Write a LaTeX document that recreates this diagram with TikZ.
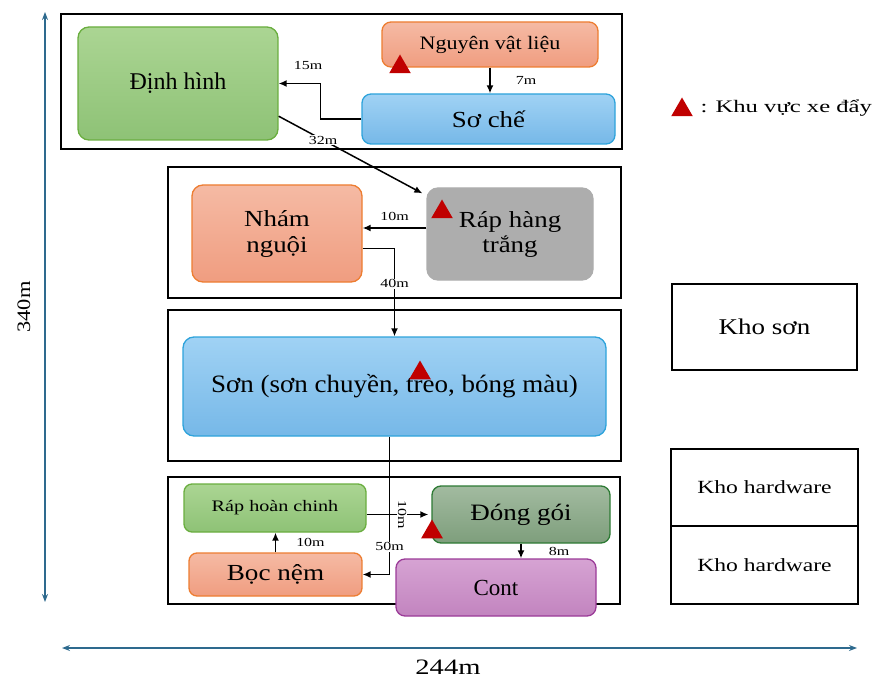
\documentclass[tikz,border=0pt]{standalone}
\usepackage{fontspec}
\setmainfont{Liberation Serif}
\usepackage{xcolor}
\usepackage{tikz}
\usetikzlibrary{positioning, arrows.meta, shapes.geometric}

\definecolor{grnTop}{HTML}{ABD593}
\definecolor{grnBot}{HTML}{8EC276}
\definecolor{grnLine}{HTML}{6AAE3F}
\definecolor{orgTop}{HTML}{F5BAA4}
\definecolor{orgBot}{HTML}{F09D80}
\definecolor{orgLine}{HTML}{ED7D31}
\definecolor{bluTop}{HTML}{A0D2F4}
\definecolor{bluBot}{HTML}{76B8E8}
\definecolor{bluLine}{HTML}{2EA3DB}
\definecolor{gryFill}{HTML}{ADADAD}
\definecolor{dgrTop}{HTML}{A2BBA0}
\definecolor{dgrBot}{HTML}{7E9E7C}
\definecolor{dgrLine}{HTML}{2D7A34}
\definecolor{purTop}{HTML}{D6A3D3}
\definecolor{purBot}{HTML}{C284BF}
\definecolor{purLine}{HTML}{9B3B98}
\definecolor{cartred}{HTML}{C00000}
\definecolor{dimblue}{HTML}{2E6A8E}

% size, line skip, horizontal stretch
\newcommand{\fsz}[3]{\fontsize{#1}{#2}\selectfont\addfontfeatures{FakeStretch=#3}}

\begin{document}
\begin{tikzpicture}[x=1pt, y=-1pt,
  box/.style={draw, rounded corners=11pt, line width=1.3pt, align=center, inner sep=0pt},
  zone/.style={draw, line width=2.4pt},
  store/.style={draw, line width=2pt, align=center, inner sep=0pt},
  flow/.style={line width=1.5pt, -{Latex[length=8pt,width=7pt]}},
  dist/.style={font=\fsz{12.3}{14}{1.3}, inner sep=1pt},
  cart/.style={regular polygon, regular polygon sides=3, fill=cartred, minimum size=25pt, inner sep=0pt},
  dim/.style={draw=dimblue, line width=1.6pt, {Stealth[length=8pt,width=6pt]}-{Stealth[length=8pt,width=6pt]}}]
\useasboundingbox (0,0) rectangle (873,679);

% khu vuc
\draw[zone] (61,14) rectangle (622,149);
\draw[zone] (168,167) rectangle (621,298);
\draw[zone] (168,310) rectangle (621,461);
\draw[zone] (168,477) rectangle (620,604);

% cong doan
\node[box, draw=grnLine, top color=grnTop, bottom color=grnBot, minimum width=200pt, minimum height=113pt, font=\fsz{24}{28}{1.0}] (dinhhinh) at (178,83.5) {Định hình};
\node[box, rounded corners=9pt, draw=orgLine, top color=orgTop, bottom color=orgBot, minimum width=216pt, minimum height=45pt, font=\fsz{19}{22}{1.16}] (nvl) at (490,44.5) {Nguyên vật liệu};
\node[box, rounded corners=9pt, draw=bluLine, top color=bluTop, bottom color=bluBot, minimum width=253pt, minimum height=50pt, font=\fsz{23}{26}{1.17}] (soche) at (488.5,119) {Sơ chế};
\node[box, draw=orgLine, top color=orgTop, bottom color=orgBot, minimum width=170pt, minimum height=97pt, font=\fsz{23}{26}{1.17}] (nham) at (277,233.5) {Nhám\\nguội};
\node[box, draw=gryFill, fill=gryFill, minimum width=166pt, minimum height=92pt, font=\fsz{23}{25}{1.17}] (raphang) at (510,234) {Ráp hàng\\trắng};
\node[box, draw=bluLine, top color=bluTop, bottom color=bluBot, minimum width=423pt, minimum height=99pt, font=\fsz{25}{29}{1.08}] (son) at (394.5,386.5) {Sơn (sơn chuyền, treo, bóng màu)};
\node[box, rounded corners=8pt, draw=grnLine, top color=grnTop, bottom color=grnBot, minimum width=182pt, minimum height=48pt, font=\fsz{16}{19}{1.26}] (raphoan) at (275,508) {Ráp hoàn chinh};
\node[box, rounded corners=8pt, draw=orgLine, top color=orgTop, bottom color=orgBot, minimum width=173pt, minimum height=43pt, font=\fsz{23}{26}{1.18}] (bocnem) at (275.5,574.5) {Bọc nệm};
\node[box, rounded corners=9pt, draw=dgrLine, top color=dgrTop, bottom color=dgrBot, minimum width=178pt, minimum height=57pt, font=\fsz{23.5}{27}{1.15}] (donggoi) at (521,514.5) {Đóng gói};
\node[box, rounded corners=9pt, draw=purLine, top color=purTop, bottom color=purBot, minimum width=200pt, minimum height=57pt, font=\fsz{23}{26}{1.0}] (cont) at (496,587.5) {Cont};

% kho
\node[store, minimum width=185pt, minimum height=86pt, font=\fsz{22.5}{26}{1.2}] (khoson) at (764.5,327) {Kho sơn};
\node[store, minimum width=187pt, minimum height=77pt, font=\fsz{18.6}{22}{1.27}] (khohw1) at (764.5,487.5) {Kho hardware};
\node[store, minimum width=187pt, minimum height=78pt, font=\fsz{18.6}{22}{1.27}] (khohw2) at (764.5,565) {Kho hardware};

% xe day
\node[cart] (cart1) at (400,67) {};
\node[cart] (cart2) at (442,212) {};
\node[cart] (cart3) at (420,373) {};
\node[cart] (cart4) at (432,532) {};
\node[cart] (cart5) at (682,110) {};
\node[anchor=west, font=\fsz{17.6}{21}{1.4}] (legend) at (697,108) {: Khu vực xe đẩy};

% luong di chuyen
\draw[flow] (nvl.south) -- node[midway, right=24pt, dist] {7m} (nvl.south |- soche.north);
\draw[flow] (soche.west) -- ++(-41,0) |- (dinhhinh.east);
\node[dist] (d15) at (308,66) {15m};
\draw[flow] (dinhhinh.-18) -- node[pos=0.31, fill=white, dist] {32m} ([shift={(-4,6)}]raphang.north west);
\draw[flow] ([yshift=6pt]raphang.west) -- node[midway, above=6pt, dist] {10m} ([yshift=6pt]raphang.west -| nham.east);
\draw[flow] (nham.-10) -| node[pos=0.7, fill=white, dist] {40m} (son.north);
\draw[flow] ([xshift=-5pt]son.south) |- node[pos=0.4, fill=white, dist] {50m} (bocnem.east);
\draw[flow] (bocnem.north) -- node[midway, right=19pt, dist] {10m} (bocnem.north |- raphoan.south);
\draw[flow, shorten >=3pt] (raphoan.east |- donggoi.west) -- node[pos=0.55, rotate=-90, fill=white, dist] {10m} (donggoi.west);
\draw[flow] (donggoi.south) -- node[midway, right=26pt, dist] {8m} (donggoi.south |- cont.north);

% kich thuoc
\coordinate (vtop) at (45,12);
\coordinate (vbot) at (45,602);
\coordinate (hleft) at (62,648);
\coordinate (hright) at (857,648);
\draw[dim] (vtop) -- (vbot);
\draw[dim] (hleft) -- (hright);
\node[rotate=90, font=\fsz{19}{22}{1.18}] (lenlbl) at (24,307) {340m};
\node[font=\fsz{22}{26}{1.3}] (widlbl) at (448,667) {244m};
\end{tikzpicture}
\end{document}
